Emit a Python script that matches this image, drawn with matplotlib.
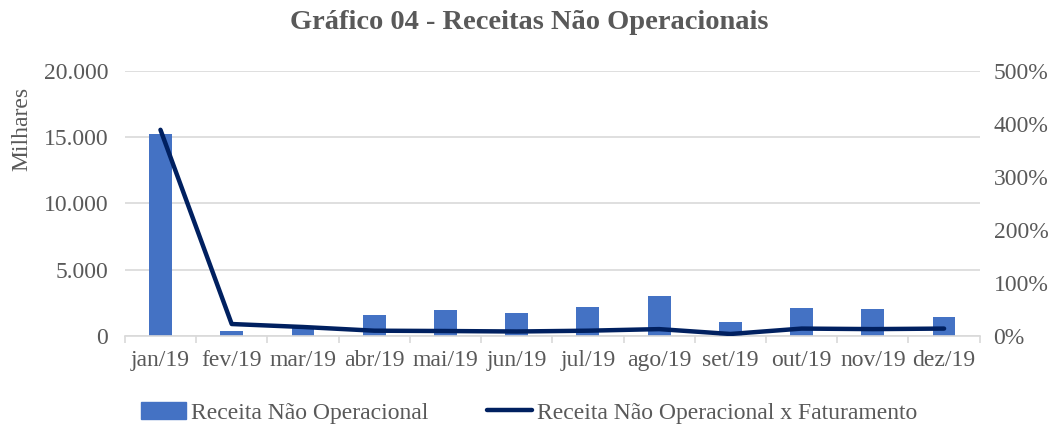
import matplotlib
matplotlib.use("Agg")
import matplotlib.pyplot as plt
import numpy as np
from matplotlib.ticker import FuncFormatter, FixedLocator
from matplotlib.patches import Patch
from matplotlib.lines import Line2D

plt.rcParams['font.family'] = ['Liberation Serif', 'DejaVu Serif']

meses = ['jan/19', 'fev/19', 'mar/19', 'abr/19', 'mai/19', 'jun/19',
         'jul/19', 'ago/19', 'set/19', 'out/19', 'nov/19', 'dez/19']
receita = [15250, 380, 750, 1580, 1950, 1750, 2200, 3000, 1080, 2130, 2060, 1430]
perc_fat = [389, 22.6, 17, 10, 9.4, 8.5, 10, 13, 3.8, 14, 13, 14]

cor_barra = '#4472C4'
cor_linha = '#002060'
cinza = '#595959'
fs = 17

fig = plt.figure(figsize=(10.58, 4.30), dpi=100)
ax = fig.add_axes([0.118, 0.2186, 0.808, 0.6164])
ax2 = ax.twinx()

x = np.arange(len(meses))
ax.bar(x, receita, width=0.32, color=cor_barra, zorder=2)
ax2.plot(x, perc_fat, color=cor_linha, lw=3.2, solid_capstyle='round', zorder=3)

ax.set_xlim(-0.5, len(meses) - 0.5)
ax.set_ylim(0, 20000)
ax2.set_ylim(0, 500)
ax.set_yticks(np.arange(0, 20001, 5000))
ax2.set_yticks(np.arange(0, 501, 100))
ax.yaxis.set_major_formatter(FuncFormatter(lambda v, p: f'{int(v):,}'.replace(',', '.')))
ax2.yaxis.set_major_formatter(FuncFormatter(lambda v, p: f'{int(v)}%'))

ax.grid(axis='y', color='#d9d9d9', lw=1.2, zorder=0)
ax.set_axisbelow(True)
for a in (ax, ax2):
    for s in a.spines.values():
        s.set_visible(False)
ax.spines['bottom'].set_visible(True)
ax.spines['bottom'].set_color('#d9d9d9')
ax.spines['bottom'].set_linewidth(1.2)

ax.set_xticks(x)
ax.set_xticklabels(meses)
ax.xaxis.set_minor_locator(FixedLocator(np.arange(-0.5, len(meses), 1)))
ax.tick_params(axis='x', which='major', length=0, pad=10, labelsize=fs, labelcolor=cinza)
ax.tick_params(axis='x', which='minor', length=5, color='#d9d9d9', width=1.2)
ax.tick_params(axis='y', length=0, pad=12, labelsize=fs, labelcolor=cinza)
ax2.tick_params(axis='y', length=0, pad=10, labelsize=fs, labelcolor=cinza)

fig.text(0.021, 0.70, 'Milhares', rotation=90, ha='center', va='center',
         fontsize=fs, color=cinza)
fig.text(0.5, 0.948, 'Gráfico 04 - Receitas Não Operacionais', ha='center', va='center',
         fontsize=20.5, fontweight='bold', color=cinza)

handles = [Patch(color=cor_barra, label='Receita Não Operacional'),
           Line2D([0], [0], color=cor_linha, lw=3.2, solid_capstyle='round',
                  label='Receita Não Operacional x Faturamento')]
fig.legend(handles=handles, loc='center', bbox_to_anchor=(0.5, 0.04), ncol=2,
           frameon=False, fontsize=fs, labelcolor=cinza, handlelength=1.9,
           handletextpad=0.2, columnspacing=2.5)

fig.savefig('out.png', dpi=100)
